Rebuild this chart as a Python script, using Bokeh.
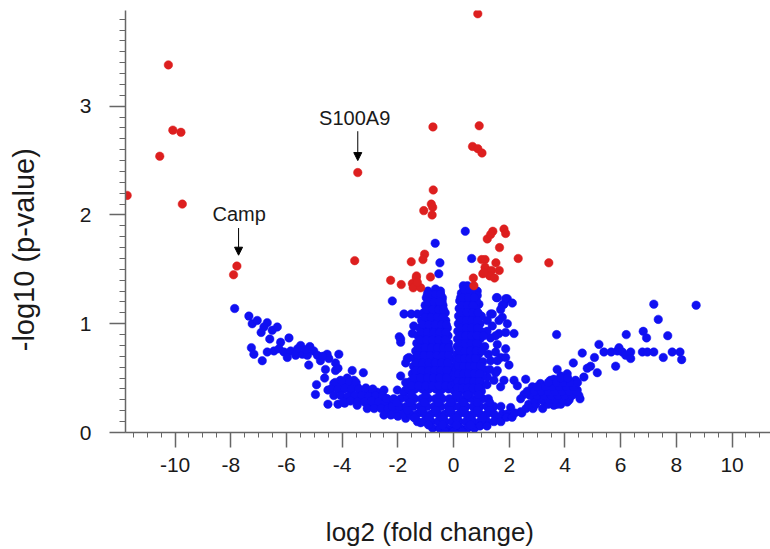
from bokeh.plotting import figure
from bokeh.models import Range1d, FixedTicker, Label, Arrow, NormalHead, ColumnDataSource
from bokeh.embed import file_html
from bokeh.resources import INLINE

# ---------------- data (log2 fold change, -log10 p-value) ----------------
red_points = [
    (-10.24, 3.38), (-10.08, 2.78), (-9.79, 2.76), (-10.55, 2.54), (-11.72, 2.18), (-9.74, 2.10),
    (-7.78, 1.53), (-7.90, 1.45),
    (0.87, 3.85), (-0.74, 2.81), (0.92, 2.82), (0.68, 2.63), (0.87, 2.61), (1.02, 2.57),
    (-3.44, 2.39), (-0.73, 2.23), (-0.80, 2.10), (-1.07, 2.04), (-0.75, 2.07), (-0.77, 2.00),
    (-3.55, 1.58), (-1.52, 1.57), (-1.04, 1.64), (-1.10, 1.59), (1.21, 1.78), (1.41, 1.85),
    (1.33, 1.82), (1.81, 1.87), (1.87, 1.83), (1.65, 1.70), (1.01, 1.59), (1.13, 1.59),
    (1.52, 1.56), (2.32, 1.60), (3.42, 1.56), (1.13, 1.52), (1.36, 1.49), (1.64, 1.49),
    (1.05, 1.46), (1.30, 1.44), (-1.33, 1.44), (-0.83, 1.43), (0.71, 1.42), (-2.26, 1.40),
    (-1.88, 1.36), (-1.48, 1.37), (-1.34, 1.42), (-1.45, 1.33), (-1.18, 1.33), (-1.30, 1.38),
    (0.73, 1.35), (1.09, 1.47), (1.47, 1.42),
]

blue_left_arm = [
    (-7.86, 1.14), (-7.35, 1.07), (-7.23, 1.00), (-7.05, 1.03), (-6.91, 0.92), (-6.69, 1.01),
    (-6.81, 0.97), (-6.51, 0.94), (-6.33, 0.97), (-6.60, 0.86), (-5.91, 0.87), (-6.21, 0.83),
    (-7.26, 0.78), (-7.17, 0.72), (-6.87, 0.66), (-6.69, 0.74), (-6.45, 0.75), (-6.27, 0.77),
    (-6.09, 0.74), (-5.85, 0.75), (-5.97, 0.69), (-5.67, 0.71), (-5.49, 0.80), (-5.43, 0.72),
    (-5.16, 0.79), (-5.25, 0.71), (-5.02, 0.75), (-5.20, 0.62), (-4.89, 0.71), (-4.54, 0.72),
    (-4.78, 0.66), (-4.12, 0.72), (-4.48, 0.68), (-4.60, 0.58), (-4.24, 0.64), (-4.63, 0.50),
    (-4.24, 0.57), (-4.15, 0.59), (-3.64, 0.57), (-3.24, 0.55), (-4.92, 0.44), (-4.96, 0.35),
    (-4.51, 0.39), (-4.51, 0.26), (-4.15, 0.26), (-3.91, 0.27), (-4.30, 0.45), (-4.06, 0.48),
    (-3.82, 0.50), (-3.58, 0.48), (-3.94, 0.40), (-3.70, 0.39), (-3.46, 0.42), (-3.34, 0.35),
    (-3.58, 0.32), (-3.22, 0.32), (-3.46, 0.25), (-3.10, 0.39), (-2.92, 0.34), (-2.74, 0.37),
    (-2.50, 0.39), (-2.68, 0.29), (-2.38, 0.31), (-2.14, 0.26), (-3.04, 0.26), (-2.86, 0.23),
    (-1.90, 0.23), (-1.66, 0.19), (-1.43, 0.14), (-2.02, 0.16), (-1.72, 0.13), (-1.18, 0.09),
    (-2.20, 0.17), (-2.44, 0.20), (-5.60, 0.77), (-5.30, 0.76), (-4.70, 0.70),
    (-4.25, 0.46), (-4.00, 0.46), (-3.75, 0.46), (-3.50, 0.46),
    (-4.40, 0.40), (-4.15, 0.40), (-3.90, 0.41), (-3.65, 0.40), (-3.40, 0.40), (-3.15, 0.41), (-2.90, 0.40),
    (-4.30, 0.34), (-4.05, 0.34), (-3.80, 0.33), (-3.55, 0.34), (-3.30, 0.34), (-3.05, 0.33),
    (-2.80, 0.34), (-2.55, 0.34),
    (-3.95, 0.28), (-3.70, 0.29), (-3.45, 0.28), (-3.20, 0.28), (-2.95, 0.29), (-2.70, 0.28),
    (-2.45, 0.27), (-2.20, 0.28),
    (-3.10, 0.22), (-2.85, 0.22), (-2.60, 0.22), (-2.35, 0.22), (-2.10, 0.21),
    (-2.50, 0.16), (-2.25, 0.16), (-2.00, 0.15),
]

blue_center_scatter = [
    (0.42, 1.85), (-0.66, 1.74), (-0.49, 1.56), (0.65, 1.60), (-0.53, 1.46), (-0.65, 1.32),
    (0.43, 1.33), (0.61, 1.29), (0.85, 1.30), (-0.89, 1.26), (1.57, 1.24), (1.93, 1.23),
    (-2.20, 1.21), (-1.78, 1.09), (-1.52, 1.09), (-1.90, 0.86), (-1.90, 0.83), (-1.90, 0.52),
    (-2.02, 0.39), (-1.72, 0.39), (-1.66, 0.68), (-1.43, 0.98), (-1.48, 0.91), (-1.30, 1.09),
    (-0.94, 1.27), (-0.89, 1.23), (-0.59, 1.30), (-0.47, 1.27), (-0.41, 1.21), (0.37, 1.33),
    (0.49, 1.30), (0.25, 1.24), (0.85, 1.26), (0.91, 1.18), (1.81, 1.18), (1.33, 1.09),
    (1.63, 1.03), (1.93, 1.00), (1.21, 1.03), (1.33, 0.87), (1.63, 0.91), (1.69, 0.69),
    (1.33, 0.66), (1.57, 0.57), (1.81, 0.48), (1.21, 0.51), (0.97, 0.42), (1.54, 1.24),
    (1.87, 1.23), (2.11, 1.19), (1.75, 1.17), (1.69, 1.13), (1.39, 1.09), (1.75, 1.06),
    (1.39, 0.98), (1.87, 0.92), (2.17, 0.91), (1.51, 0.89), (1.57, 0.81), (1.87, 0.77),
    (1.51, 0.74), (1.87, 0.69), (1.57, 0.66), (1.99, 0.62), (1.51, 0.55), (1.45, 0.48),
    (1.69, 0.42), (2.17, 0.48), (2.29, 0.43), (2.59, 0.49), (-1.72, 0.64), (-1.60, 0.69),
    (-1.72, 0.46), (-1.78, 0.37), (-1.95, 0.88),
]

blue_left_column = [
    (-0.92, 1.30), (-0.62, 1.30), (-0.47, 1.30),
    (-0.98, 1.24), (-0.75, 1.24), (-0.55, 1.24), (-0.40, 1.24),
    (-1.02, 1.17), (-0.80, 1.17), (-0.60, 1.17), (-0.38, 1.17),
    (-1.08, 1.10), (-0.85, 1.10), (-0.65, 1.10), (-0.45, 1.10), (-0.30, 1.10),
    (-1.15, 1.03), (-0.92, 1.03), (-0.70, 1.03), (-0.50, 1.03), (-0.28, 1.03),
    (-1.22, 0.96), (-1.00, 0.96), (-0.78, 0.96), (-0.55, 0.96), (-0.32, 0.96), (-0.22, 0.96),
    (-1.28, 0.89), (-1.05, 0.89), (-0.82, 0.89), (-0.60, 0.89), (-0.38, 0.89), (-0.20, 0.89),
    (-1.32, 0.82), (-1.10, 0.82), (-0.88, 0.82), (-0.65, 0.82), (-0.42, 0.82), (-0.18, 0.82),
    (-1.36, 0.75), (-1.14, 0.75), (-0.92, 0.75), (-0.70, 0.75), (-0.48, 0.75), (-0.25, 0.75), (-0.14, 0.75),
    (-1.40, 0.68), (-1.18, 0.68), (-0.95, 0.68), (-0.72, 0.68), (-0.50, 0.68), (-0.28, 0.68), (-0.12, 0.68),
    (-1.44, 0.61), (-1.22, 0.61), (-1.00, 0.61), (-0.78, 0.61), (-0.55, 0.61), (-0.32, 0.61), (-0.10, 0.61),
    (-1.48, 0.54), (-1.25, 0.54), (-1.02, 0.54), (-0.80, 0.54), (-0.58, 0.54), (-0.35, 0.54), (-0.10, 0.54),
    (-1.55, 0.47), (-1.30, 0.47), (-1.06, 0.47), (-0.84, 0.47), (-0.60, 0.47), (-0.38, 0.47), (-0.15, 0.47), (-0.05, 0.47),
    (-1.62, 0.40), (-1.38, 0.40), (-1.12, 0.40), (-0.88, 0.40), (-0.64, 0.40), (-0.40, 0.40), (-0.18, 0.40), (0.00, 0.40),
    # in-between points of the dense left column
    (-0.86, 1.27), (-0.65, 1.27), (-0.47, 1.27),
    (-0.90, 1.20), (-0.70, 1.20), (-0.50, 1.20),
    (-0.96, 1.13), (-0.75, 1.13), (-0.53, 1.13), (-0.36, 1.13),
    (-1.02, 1.06), (-0.80, 1.06), (-0.58, 1.06), (-0.38, 1.06),
    (-1.10, 0.99), (-0.88, 0.99), (-0.66, 0.99), (-0.44, 0.99), (-0.26, 0.99),
    (-1.16, 0.92), (-0.94, 0.92), (-0.72, 0.92), (-0.50, 0.92), (-0.28, 0.92),
    (-1.20, 0.85), (-0.98, 0.85), (-0.76, 0.85), (-0.54, 0.85), (-0.30, 0.85),
    (-1.25, 0.78), (-1.02, 0.78), (-0.80, 0.78), (-0.58, 0.78), (-0.36, 0.78), (-0.18, 0.78),
    (-1.30, 0.71), (-1.06, 0.71), (-0.84, 0.71), (-0.60, 0.71), (-0.38, 0.71), (-0.18, 0.71),
    (-1.34, 0.64), (-1.10, 0.64), (-0.88, 0.64), (-0.66, 0.64), (-0.44, 0.64), (-0.22, 0.64),
    (-1.36, 0.57), (-1.14, 0.57), (-0.90, 0.57), (-0.68, 0.57), (-0.46, 0.57), (-0.24, 0.57),
    (-1.42, 0.50), (-1.18, 0.50), (-0.94, 0.50), (-0.72, 0.50), (-0.50, 0.50), (-0.26, 0.50),
    (-1.50, 0.43), (-1.25, 0.43), (-1.00, 0.43), (-0.76, 0.43), (-0.52, 0.43), (-0.28, 0.43), (-0.08, 0.43),
]

blue_right_column = [
    (0.35, 1.35), (0.50, 1.35),
    (0.28, 1.28), (0.48, 1.28), (0.65, 1.28),
    (0.22, 1.21), (0.42, 1.21), (0.62, 1.21), (0.82, 1.21),
    (0.20, 1.14), (0.40, 1.14), (0.60, 1.14), (0.80, 1.14),
    (0.18, 1.07), (0.38, 1.07), (0.58, 1.07), (0.78, 1.07), (1.00, 1.07),
    (0.17, 1.00), (0.36, 1.00), (0.56, 1.00), (0.76, 1.00), (0.95, 1.00),
    (0.15, 0.93), (0.35, 0.93), (0.55, 0.93), (0.75, 0.93), (0.98, 0.93), (1.20, 0.93),
    (0.14, 0.86), (0.34, 0.86), (0.54, 0.86), (0.74, 0.86), (0.95, 0.86),
    (0.13, 0.79), (0.32, 0.79), (0.52, 0.79), (0.72, 0.79), (0.92, 0.79), (1.12, 0.79),
    (0.12, 0.72), (0.30, 0.72), (0.50, 0.72), (0.70, 0.72), (0.90, 0.72), (1.25, 0.72),
    (0.10, 0.65), (0.28, 0.65), (0.48, 0.65), (0.68, 0.65), (0.88, 0.65), (1.05, 0.65),
    (0.09, 0.58), (0.27, 0.58), (0.46, 0.58), (0.66, 0.58), (0.86, 0.58), (1.10, 0.58), (1.30, 0.58),
    (0.08, 0.51), (0.26, 0.51), (0.45, 0.51), (0.64, 0.51), (0.84, 0.51), (1.04, 0.51),
    (0.06, 0.44), (0.24, 0.44), (0.43, 0.44), (0.62, 0.44), (0.82, 0.44), (1.02, 0.44), (1.20, 0.44),
    (0.04, 0.38), (0.22, 0.38), (0.42, 0.38), (0.60, 0.38), (0.80, 0.38), (1.00, 0.38),
    # in-between points of the dense right column
    (0.40, 1.31), (0.58, 1.31),
    (0.33, 1.24), (0.55, 1.24), (0.74, 1.24),
    (0.30, 1.17), (0.50, 1.17), (0.70, 1.17),
    (0.28, 1.10), (0.48, 1.10), (0.68, 1.10), (0.88, 1.10),
    (0.27, 1.03), (0.46, 1.03), (0.66, 1.03), (0.86, 1.03),
    (0.25, 0.96), (0.45, 0.96), (0.65, 0.96), (0.85, 0.96),
    (0.24, 0.89), (0.44, 0.89), (0.64, 0.89), (0.84, 0.89), (1.08, 0.89),
    (0.23, 0.82), (0.43, 0.82), (0.63, 0.82), (0.83, 0.82),
    (0.21, 0.75), (0.41, 0.75), (0.61, 0.75), (0.81, 0.75), (1.02, 0.75),
    (0.20, 0.68), (0.39, 0.68), (0.59, 0.68), (0.78, 0.68),
    (0.18, 0.61), (0.37, 0.61), (0.57, 0.61), (0.76, 0.61), (0.97, 0.61),
    (0.17, 0.54), (0.36, 0.54), (0.55, 0.54), (0.74, 0.54), (0.94, 0.54),
    (0.15, 0.47), (0.34, 0.47), (0.53, 0.47), (0.72, 0.47), (0.92, 0.47),
    (0.13, 0.41), (0.33, 0.41), (0.51, 0.41), (0.70, 0.41), (0.90, 0.41),
]

blue_base = [
    (-2.40, 0.31), (-2.15, 0.31), (-1.90, 0.31), (-1.65, 0.31), (-1.40, 0.31), (-1.15, 0.31),
    (-0.90, 0.31), (-0.65, 0.31), (-0.40, 0.31), (-0.15, 0.31), (0.05, 0.31), (0.25, 0.31),
    (0.45, 0.31), (0.65, 0.31), (0.85, 0.31), (1.05, 0.31), (1.25, 0.31),
    (-2.20, 0.24), (-1.95, 0.24), (-1.70, 0.24), (-1.45, 0.24), (-1.20, 0.24), (-0.95, 0.24),
    (-0.70, 0.24), (-0.45, 0.24), (-0.20, 0.24), (0.00, 0.24), (0.20, 0.24), (0.45, 0.24),
    (0.70, 0.24), (0.95, 0.24), (1.20, 0.24), (1.45, 0.24), (1.70, 0.24),
    (-1.80, 0.17), (-1.55, 0.17), (-1.30, 0.17), (-1.05, 0.17), (-0.80, 0.17), (-0.55, 0.17),
    (-0.30, 0.17), (-0.05, 0.17), (0.20, 0.17), (0.45, 0.17), (0.70, 0.17), (0.95, 0.17),
    (1.20, 0.17), (1.45, 0.17), (1.75, 0.17),
    (-1.30, 0.10), (-1.05, 0.10), (-0.80, 0.10), (-0.55, 0.10), (-0.30, 0.10), (-0.05, 0.10),
    (0.20, 0.10), (0.45, 0.10), (0.70, 0.10), (0.95, 0.10), (1.20, 0.10),
    (-0.75, 0.04), (-0.50, 0.04), (-0.25, 0.04), (0.00, 0.04), (0.25, 0.04), (0.50, 0.04), (0.75, 0.04),
    (-0.30, 0.01), (0.00, 0.01), (0.30, 0.01),
    # in-between points of the dense base
    (-1.50, 0.345), (-1.00, 0.345), (-0.50, 0.345), (0.10, 0.345), (0.50, 0.345), (0.90, 0.345),
    (-2.05, 0.275), (-1.55, 0.275), (-1.05, 0.275), (-0.55, 0.275), (-0.10, 0.275), (0.35, 0.275),
    (0.85, 0.275), (1.30, 0.275),
    (-1.65, 0.205), (-1.15, 0.205), (-0.65, 0.205), (-0.15, 0.205), (0.35, 0.205), (0.85, 0.205), (1.30, 0.205),
    (-1.40, 0.135), (-0.90, 0.135), (-0.40, 0.135), (0.10, 0.135), (0.60, 0.135), (1.05, 0.135),
    (-0.90, 0.07), (-0.40, 0.07), (0.10, 0.07), (0.60, 0.07),
]

blue_right_arm = [
    (3.70, 0.90), (3.72, 0.58), (4.30, 0.64), (4.62, 0.73), (4.80, 0.59), (4.92, 0.61),
    (4.68, 0.51), (5.16, 0.55), (5.06, 0.69), (5.22, 0.81), (5.40, 0.74), (5.66, 0.74),
    (5.88, 0.75), (5.94, 0.78), (6.06, 0.74), (6.18, 0.71), (6.36, 0.74), (6.36, 0.68),
    (5.82, 0.61), (6.20, 0.90), (6.78, 0.74), (6.96, 0.74), (7.19, 0.74), (6.81, 0.93),
    (6.93, 0.87), (7.19, 1.18), (7.35, 1.04), (7.69, 0.89), (7.53, 0.69), (7.85, 0.74),
    (8.13, 0.74), (8.19, 0.67), (8.71, 1.17), (3.48, 0.48), (2.53, 0.35), (2.83, 0.42),
    (3.12, 0.45), (3.60, 0.49), (4.08, 0.48), (4.38, 0.48), (4.44, 0.39), (4.54, 0.31),
    (4.20, 0.35), (4.08, 0.28), (3.72, 0.26), (3.60, 0.25), (3.24, 0.29), (3.01, 0.31),
    (2.76, 0.25), (2.41, 0.19), (2.05, 0.23), (1.93, 0.17), (1.57, 0.14), (2.41, 0.31),
    (4.08, 0.54), (3.85, 0.52),
    (0.95, 0.06), (1.20, 0.06), (1.45, 0.10), (1.70, 0.10), (1.90, 0.14), (2.10, 0.14),
    (2.20, 0.18), (2.45, 0.18), (2.60, 0.22), (2.85, 0.22), (3.20, 0.22),
    (2.70, 0.26), (2.95, 0.26), (3.40, 0.26), (3.85, 0.26),
    (2.90, 0.30), (3.15, 0.30), (3.40, 0.30), (3.65, 0.30), (3.90, 0.30), (4.15, 0.30),
    (2.75, 0.34), (3.00, 0.34), (3.25, 0.34), (3.50, 0.34), (3.75, 0.34), (4.00, 0.34),
    (4.25, 0.34), (4.50, 0.34),
    (2.65, 0.38), (2.90, 0.38), (3.15, 0.38), (3.40, 0.38), (3.65, 0.38), (3.90, 0.38),
    (4.15, 0.38), (4.40, 0.38),
    (3.00, 0.42), (3.30, 0.42), (3.55, 0.42), (3.80, 0.42), (4.05, 0.42), (4.30, 0.42),
    (3.40, 0.46), (3.70, 0.46), (3.95, 0.46), (4.20, 0.46), (4.45, 0.46),
    (3.85, 0.50), (4.10, 0.50),
]

x_ticks = [-10, -8, -6, -4, -2, 0, 2, 4, 6, 8, 10]
x_tick_labels = ["-10", "-8", "-6", "-4", "-2", "0", "2", "4", "6", "8", "10"]
x_minor = [v / 2 for v in range(-23, 24)]
y_ticks = [0, 1, 2, 3]
y_tick_labels = ["0", "1", "2", "3"]
y_minor = [v / 10 for v in range(0, 39)]

x_title = "log2 (fold change)"
y_title = "-log10 (p-value)"

# annotations: (label, label x, label y, arrow x, arrow start y, arrow end y)
annotations = [
    ("S100A9", -3.55, 2.89, -3.44, 2.77, 2.50),
    ("Camp", -7.70, 2.01, -7.72, 1.88, 1.63),
]

FONT = "Liberation Sans"
RED = "#dd1f1f"
BLUE = "#1010f2"
TEXT = "#1a1a1a"
AXIS = "#666666"
NBSP = "\u00a0"

blue_all = blue_left_arm + blue_center_scatter + blue_left_column + blue_right_column + blue_base + blue_right_arm
blue_src = ColumnDataSource(dict(x=[q[0] for q in blue_all], y=[q[1] for q in blue_all]))
red_src = ColumnDataSource(dict(x=[q[0] for q in red_points], y=[q[1] for q in red_points]))

p = figure(width=770, height=549, x_range=Range1d(-11.78, 11.38), y_range=Range1d(0, 3.88),
           output_backend="svg", toolbar_location=None,
           min_border_left=125, min_border_right=0, min_border_top=10, min_border_bottom=117)
p.outline_line_color = None
p.grid.visible = False
p.background_fill_color = "white"
p.border_fill_color = "white"

p.scatter("x", "y", source=blue_src, size=8.5, fill_color=BLUE, line_color=BLUE, line_width=0.5)
p.scatter("x", "y", source=red_src, size=8.5, fill_color=RED, line_color=RED, line_width=0.5)

for ax in (p.xaxis[0], p.yaxis[0]):
    ax.axis_line_color = AXIS
    ax.axis_line_width = 1.5
    ax.major_tick_line_color = AXIS
    ax.minor_tick_line_color = AXIS
    ax.major_tick_line_width = 1.5
    ax.minor_tick_line_width = 1
    ax.major_tick_in = 0
    ax.minor_tick_in = 0
    ax.major_label_text_font = FONT
    ax.major_label_text_font_size = "21px"
    ax.major_label_text_color = TEXT
    ax.axis_label_text_font = FONT
    ax.axis_label_text_font_style = "normal"
    ax.axis_label_text_color = TEXT

p.xaxis.ticker = FixedTicker(ticks=x_ticks, minor_ticks=x_minor)
p.yaxis.ticker = FixedTicker(ticks=y_ticks, minor_ticks=y_minor)
p.xaxis.major_label_overrides = dict(zip(x_ticks, x_tick_labels))
p.yaxis.major_label_overrides = dict(zip(y_ticks, y_tick_labels))
p.xaxis.major_tick_out = 15
p.xaxis.minor_tick_out = 5
p.yaxis.major_tick_out = 16
p.yaxis.minor_tick_out = 6
p.xaxis.major_label_standoff = 10
p.yaxis.major_label_standoff = 18

# Axis titles; trailing non-breaking spaces move the visible text off-centre
# along the axis, as the reference titles sit off the frame centre.
p.xaxis.axis_label = x_title + NBSP * 5
p.xaxis.axis_label_text_font_size = "26px"
p.xaxis.axis_label_standoff = 42
p.yaxis.axis_label = y_title + NBSP * 7
p.yaxis.axis_label_text_font_size = "29px"
p.yaxis.axis_label_standoff = 37

for text, lx, ly, axx, ay0, ay1 in annotations:
    p.add_layout(Label(x=lx, y=ly, text=text, text_align="center", text_baseline="middle",
                       text_font=FONT, text_font_size="20px", text_color=TEXT))
    p.add_layout(Arrow(x_start=axx, y_start=ay0, x_end=axx, y_end=ay1, line_color="black", line_width=1,
                       end=NormalHead(size=8, fill_color="black", line_color="black")))

open("out.html", "w").write(file_html(p, INLINE))
